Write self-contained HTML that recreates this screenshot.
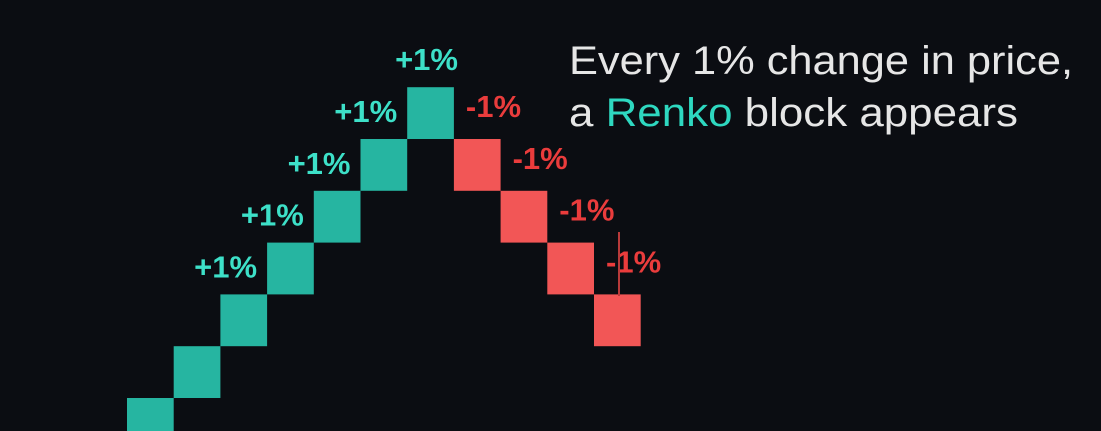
<!DOCTYPE html>
<html><head><meta charset="utf-8"><style>
html,body{margin:0;padding:0;background:#0b0d12;}
svg{display:block;}
</style></head><body>
<svg id="chart" width="1101" height="431" viewBox="0 0 1101 431" xmlns="http://www.w3.org/2000/svg">
<rect x="0" y="0" width="1101" height="431" fill="#0b0d12"/>
<g id="bricks"></g>
<g id="labels"></g>
<line x1="619" y1="232" x2="619" y2="296" stroke="#b83a3a" stroke-width="2"/>
<text x="569" y="74" font-family="Liberation Sans, sans-serif" font-size="40" fill="#e6e6e6" textLength="504" lengthAdjust="spacingAndGlyphs">Every 1% change in price,</text>
<text x="569" y="126" font-family="Liberation Sans, sans-serif" font-size="40" fill="#e6e6e6" textLength="449" lengthAdjust="spacingAndGlyphs">a <tspan fill="#2ed8c0">Renko</tspan> block appears</text>
</svg>
<script>
// brick data: direction (+1 up / -1 down), and close levels
const directions = [1,1,1,1,1,1,1,-1,-1,-1,-1];
const closeLevels = [1,2,3,4,5,6,7,5,4,3,2];
const labelText = ["","","+1%","+1%","+1%","+1%","+1%","-1%","-1%","-1%","-1%"];

const svgNS = "http://www.w3.org/2000/svg";
const x0 = 127, xStep = 46.7, y0 = 449.8, yStep = 51.8;
function xScale(i){ return x0 + i * xStep; }
function yScale(level){ return y0 - level * yStep; }

const gB = document.getElementById('bricks');
const gL = document.getElementById('labels');
for (let i = 0; i < directions.length; i++) {
  const d = directions[i];
  const close = closeLevels[i];
  const open = d > 0 ? close - 1 : close + 1;
  const top = yScale(Math.max(open, close));
  const bot = yScale(Math.min(open, close));
  const r = document.createElementNS(svgNS, 'rect');
  r.setAttribute('x', xScale(i));
  r.setAttribute('y', top);
  r.setAttribute('width', xStep);
  r.setAttribute('height', bot - top);
  r.setAttribute('fill', d > 0 ? '#26b5a1' : '#f25656');
  
  
  gB.appendChild(r);

  if (!labelText[i]) continue;
  const t = document.createElementNS(svgNS, 'text');
  t.setAttribute('font-family', 'Liberation Sans, sans-serif');
  t.setAttribute('font-weight', 'bold');
  t.setAttribute('font-size', '31');
  t.textContent = labelText[i];
  if (d > 0) {
    t.setAttribute('fill', '#3de0c8');
    const isPeak = i + 1 >= directions.length || directions[i + 1] < 0;
    if (isPeak) {
      t.setAttribute('x', xScale(i) + xStep / 2 - 4);
      t.setAttribute('text-anchor', 'middle');
    } else {
      t.setAttribute('x', xScale(i + 1) - 10);
      t.setAttribute('text-anchor', 'end');
    }
    t.setAttribute('y', top - 17);
  } else {
    t.setAttribute('fill', '#ea3c3c');
    t.setAttribute('x', xScale(i) + 12);
    t.setAttribute('y', top - 22);
  }
  
  
  gL.appendChild(t);
}
</script>
</body></html>
